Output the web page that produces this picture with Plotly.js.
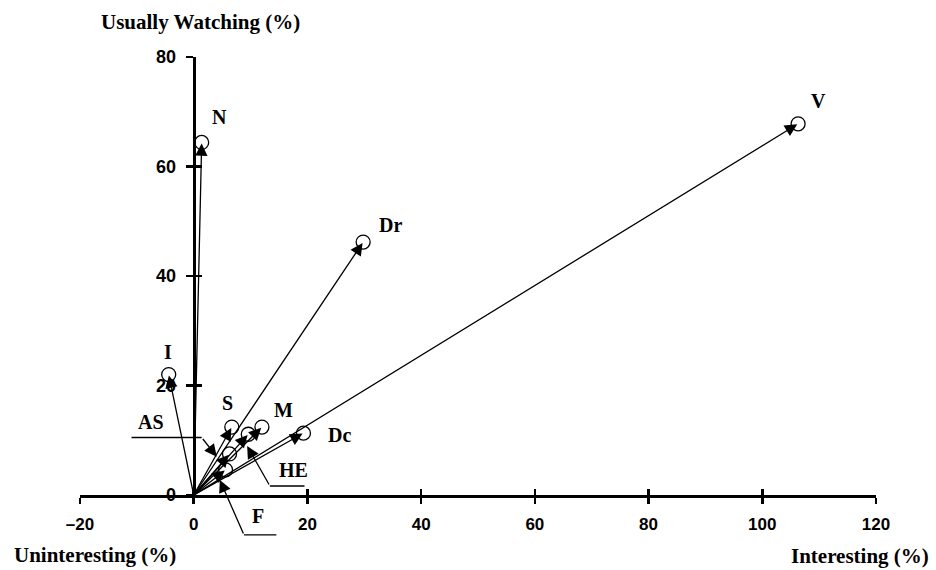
<!DOCTYPE html>
<html>
<head>
<meta charset="utf-8">
<script src="https://cdn.plot.ly/plotly-3.0.1.min.js"></script>
<style>html,body{margin:0;padding:0;background:#fff;}#chart{width:936px;height:570px;}</style>
</head>
<body>
<div id="chart"></div>
<script>
// Data: genres, % "interesting" (x) and % "usually watching" (y)
const genres      = ["V", "N", "Dr", "I", "S", "M", "Dc", "HE", "AS", "F"];
const interesting = [106.3, 1.4, 29.8, -4.4, 6.7, 12.0, 19.3, 9.6, 6.3, 5.6];
const watching    = [67.8, 64.4, 46.2, 22.0, 12.4, 12.4, 11.3, 11.1, 7.5, 4.6];
const xTicks = [-20, 0, 20, 40, 60, 80, 100, 120];
const yTicks = [0, 20, 40, 60, 80];

// Label placement (pixel offsets from the point) for directly labelled genres
const labelShift = {
  "V": [20, 23], "N": [18, 25], "Dr": [27, 17], "I": [-1, 23],
  "S": [-4, 24], "M": [22, 17], "Dc": [36, -2]
};
// Call-out labels with leader lines (axis units): label, tip, elbow, end
const callouts = [
  {name: "AS", label: [-7.5, 13.4], tip: [4.05, 7.0], elbow: [1.4, 10.5], end: [-11.2, 10.5]},
  {name: "HE", label: [17.6, 4.5], tip: [9.4, 8.95], elbow: [13.4, 1.64], end: [19.75, 1.64]},
  {name: "F",  label: [11.3, -3.9], tip: [4.6, 2.74], elbow: [8.85, -7.3], end: [14.8, -7.3]}
];

const yMin = yTicks[0], yMax = yTicks[yTicks.length - 1];
const xMin = xTicks[0], xMax = xTicks[xTicks.length - 1];
const yPaper = v => (v - yMin) / (yMax - yMin);
const pxPerY = 438 / (yMax - yMin);

const labelFont = {family: "Liberation Serif, Times New Roman, serif", size: 20, color: "#000", weight: "bold"};
const titleFont = {family: "Liberation Serif, Times New Roman, serif", size: 21, color: "#000", weight: "bold"};
const ARROW = {arrowhead: 2, arrowsize: 1.9, arrowwidth: 1.3, arrowcolor: "#000"};

const traces = [
  {
    x: interesting, y: watching, mode: "markers", type: "scatter",
    marker: {symbol: "circle", size: 14, color: "#ffffff", line: {color: "#000", width: 1.3}},
    hoverinfo: "skip", showlegend: false, cliponaxis: false
  },
  {x: [], y: [], xaxis: "x2", yaxis: "y", type: "scatter", showlegend: false, hoverinfo: "skip"},
  {x: [], y: [], xaxis: "x", yaxis: "y2", type: "scatter", showlegend: false, hoverinfo: "skip"}
];

const annotations = [];
// vectors from origin with arrowheads
genres.forEach((g, i) => {
  annotations.push(Object.assign({
    x: interesting[i], y: watching[i], xref: "x", yref: "y",
    ax: 0, ay: 0, axref: "x", ayref: "y",
    text: "", showarrow: true, standoff: 1
  }, ARROW));
  if (labelShift[g]) {
    annotations.push({
      x: interesting[i], y: watching[i], xref: "x", yref: "y",
      xanchor: "center", yanchor: "middle",
      text: g, showarrow: false, font: labelFont,
      xshift: labelShift[g][0], yshift: labelShift[g][1]
    });
  }
});
// call-outs (vertical position in paper units so they may sit below the axis)
callouts.forEach(c => {
  annotations.push(Object.assign({
    x: c.tip[0], y: yPaper(c.tip[1]), xref: "x", yref: "paper",
    ax: c.elbow[0], axref: "x", ay: -(c.elbow[1] - c.tip[1]) * pxPerY, ayref: "pixel",
    text: "", showarrow: true
  }, ARROW));
  annotations.push({
    x: c.elbow[0], y: yPaper(c.elbow[1]), xref: "x", yref: "paper",
    ax: c.end[0], axref: "x", ay: 0, ayref: "pixel",
    text: "", showarrow: true, arrowhead: 0, arrowwidth: 1.3, arrowcolor: "#000"
  });
  annotations.push({
    x: c.label[0], y: yPaper(c.label[1]), xref: "x", yref: "paper",
    xanchor: "center", yanchor: "middle",
    text: c.name, showarrow: false, font: labelFont
  });
});
// axis titles
annotations.push({text: "Usually Watching (%)", xref: "paper", yref: "paper", x: 0.152, y: 1.08,
  xanchor: "center", yanchor: "middle", showarrow: false, font: titleFont});
annotations.push({text: "Uninteresting (%)", xref: "paper", yref: "paper", x: -0.085, y: -0.137,
  xanchor: "left", yanchor: "middle", showarrow: false, font: titleFont});
annotations.push({text: "Interesting (%)", xref: "paper", yref: "paper", x: 1.069, y: -0.139,
  xanchor: "right", yanchor: "middle", showarrow: false, font: titleFont});

const yPos = (0 - xMin) / (xMax - xMin);
const tickFontX = {family: "Liberation Sans, Arial, sans-serif", size: 17, color: "#000", weight: "bold"};
const tickFontY = {family: "Liberation Sans, Arial, sans-serif", size: 18, color: "#000", weight: "bold"};

const layout = {
  width: 936, height: 570,
  margin: {l: 80, r: 60, t: 57, b: 75},
  paper_bgcolor: "#fff", plot_bgcolor: "rgba(0,0,0,0)",
  showlegend: false,
  xaxis: {
    range: [xMin, xMax], tickvals: xTicks, ticktext: xTicks.map(v => v < 0 ? "\u2013" + Math.abs(v) : String(v)),
    tickfont: tickFontX, ticks: "outside", ticklen: 6, tickwidth: 2.5, tickcolor: "#000",
    showline: true, linewidth: 3, linecolor: "#000", showgrid: false, zeroline: false,
    ticklabelstandoff: 6, fixedrange: true
  },
  xaxis2: {
    overlaying: "x", anchor: "y", side: "bottom",
    range: [xMin, xMax], tickvals: xTicks,
    showticklabels: false, ticks: "inside", ticklen: 6, tickwidth: 2.5, tickcolor: "#000",
    showline: false, showgrid: false, zeroline: false, fixedrange: true
  },
  yaxis: {
    range: [yMin, yMax], tickvals: yTicks,
    anchor: "free", position: yPos, side: "left",
    tickfont: tickFontY, ticks: "outside", ticklen: 7, tickwidth: 2.5, tickcolor: "#000",
    showline: true, linewidth: 3, linecolor: "#000", showgrid: false, zeroline: false,
    ticklabelstandoff: 6, fixedrange: true
  },
  yaxis2: {
    overlaying: "y", anchor: "free", position: yPos, side: "left",
    range: [yMin, yMax], tickvals: yTicks,
    showticklabels: false, ticks: "inside", ticklen: 7, tickwidth: 2.5, tickcolor: "#000",
    showline: false, showgrid: false, zeroline: false, fixedrange: true
  },
  annotations: annotations
};

Plotly.newPlot("chart", traces, layout, {staticPlot: true, displayModeBar: false});
</script>
</body>
</html>
